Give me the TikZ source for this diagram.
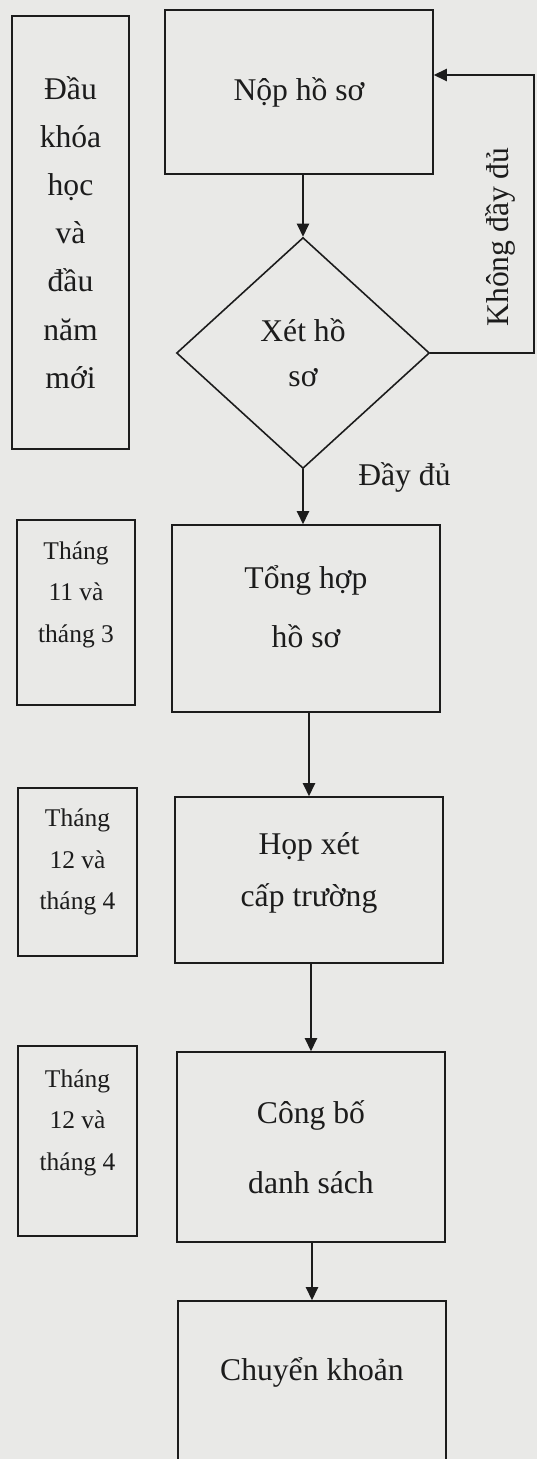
\documentclass[tikz,border=0pt]{standalone}
\usepackage{fontspec}
\setmainfont{Liberation Serif}
\usepackage{tikz}
\usepackage{xcolor}
\usetikzlibrary{arrows.meta, positioning, shapes.geometric, calc}
\definecolor{FlowInk}{HTML}{1C1C1C}
\definecolor{PaperBg}{HTML}{E9E9E7}

\begin{document}
\begin{tikzpicture}[
    x=0.02cm, y=-0.02cm,
    every node/.style={align=center},
    font=\fontsize{18}{26}\selectfont,
    flowbox/.style={
      draw=FlowInk, line width=0.9pt, text=FlowInk,
      inner sep=0pt, font=\fontsize{18}{26}\selectfont,
    },
    procbox/.style={
      flowbox, minimum width=5.36cm,
    },
    timebox/.style={
      flowbox, minimum width=2.38cm,
      font=\fontsize{14.5}{23.6}\selectfont,
    },
    decision/.style={
      flowbox, diamond, minimum width=5.06cm, minimum height=4.62cm,
      font=\fontsize{18}{25.6}\selectfont,
    },
    textat/.style 2 args={text height=#1, text depth=#2},
    flowlabel/.style={text=FlowInk, inner sep=0pt},
    flow/.style={
      draw=FlowInk, line width=0.9pt,
      -{Triangle[length=7.5pt, width=7pt]}
    },
  ]
    \useasboundingbox (0,0) rectangle (537,1459);
    \fill[PaperBg] (0,0) rectangle (537,1459);
    \clip (0,0) rectangle (537,1459);

    % time column
    \node[timebox, minimum width=2.34cm, minimum height=8.66cm,
      font=\fontsize{18}{27.4}\selectfont] (period1) at (70.5,232.5)
      {Đầu\\khóa\\học\\và\\đầu\\năm\\mới};
    \node[timebox, minimum width=2.36cm, minimum height=3.70cm,
      textat={39pt}{5pt}] (period2) at (76,612.5)
      {Tháng\\11 và\\tháng 3};
    \node[timebox, minimum height=3.36cm, textat={48pt}{5pt}] (period3)
      at (77.5,872) {Tháng\\12 và\\tháng 4};
    \node[timebox, minimum height=3.80cm, textat={38pt}{5pt}] (period4)
      at (77.5,1141) {Tháng\\12 và\\tháng 4};

    % process column
    \node[procbox, minimum height=3.28cm] (submit) at (299,92) {Nộp hồ sơ};
    \node[decision] (review) at (303,353) {Xét hồ\\sơ};
    \node[procbox, minimum height=3.74cm, textat={38.4pt}{5pt},
      font=\fontsize{18}{34}\selectfont] (compile) at (306,618.5)
      {Tổng hợp\\hồ sơ};
    \node[procbox, minimum height=3.32cm,
      textat={35pt}{5pt}, font=\fontsize{18}{29.5}\selectfont] (meeting)
      at (309,880) {Họp xét\\cấp trường};
    \node[procbox, minimum height=3.80cm,
      font=\fontsize{18}{39.7}\selectfont] (announce) at (311,1147)
      {Công bố\\danh sách};
    % runs past the lower edge
    \node[procbox, minimum height=3.60cm,
      textat={5pt}{17.5pt}] (transfer) at (312,1391) {Chuyển khoản};

    \node[flowlabel, anchor=base west] (okay) at (358,485) {Đầy đủ};
    \node[flowlabel, rotate=90, anchor=base] (lacking) at (508,237)
      {Không đầy đủ};

    \coordinate (loop) at (534,75);
    \draw[flow] (review.north |- submit.south) -- (review.north);
    \draw[flow] (review.south) -- (review.south |- compile.north);
    \draw[flow] (meeting.north |- compile.south) -- (meeting.north);
    \draw[flow] (announce.north |- meeting.south) -- (announce.north);
    \draw[flow] (transfer.north |- announce.south) -- (transfer.north);
    \draw[flow] (review.east) -| (loop) -- (submit.east |- loop);
  \end{tikzpicture}
\end{document}
